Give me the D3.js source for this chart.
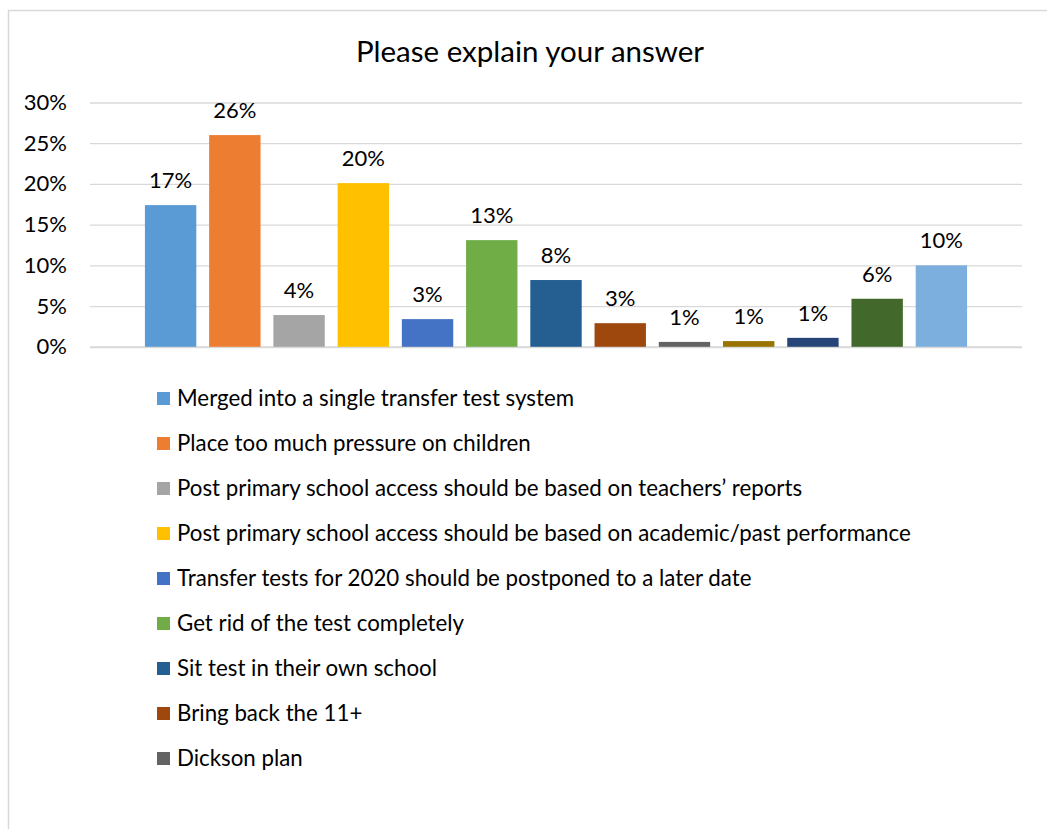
<!DOCTYPE html>
<html>
<head>
<meta charset="utf-8">
<script src="https://cdn.jsdelivr.net/npm/d3@7"></script>
<style>
  body { margin: 0; background: #fff; }
  svg { display: block; font-family: Lato, "Liberation Sans", sans-serif; }
</style>
</head>
<body>
<svg class="chart-svg" width="1047" height="829"></svg>
<script>
// values (percent)
const values = [17.4, 26.0, 3.9, 20.1, 3.4, 13.1, 8.2, 2.9, 0.6, 0.7, 1.1, 5.9, 10.0]
const colors = ['#5B9BD5', '#ED7D31', '#A5A5A5', '#FFC000', '#4472C4', '#70AD47',
  '#255E91', '#9E480E', '#636363', '#997300', '#264478', '#43682B', '#7CAFDD']
// only the first nine legend entries fit inside the chart area
const legendNames = [
  'Merged into a single transfer test system',
  'Place too much pressure on children',
  'Post primary school access should be based on teachers\u2019 reports',
  'Post primary school access should be based on academic/past performance',
  'Transfer tests for 2020 should be postponed to a later date',
  'Get rid of the test completely',
  'Sit test in their own school',
  'Bring back the 11+',
  'Dickson plan'
]
const yTicks = [0, 5, 10, 15, 20, 25, 30]
const title = 'Please explain your answer'

const svg = d3.select('.chart-svg')

// outer frame (only the top and left edges show in the crop)
svg.append('path')
  .attr('d', 'M8.5,829 V10.5 H1047')
  .attr('fill', 'none')
  .attr('stroke', '#d9d9d9')
  .attr('stroke-width', 1.5)

svg.append('text')
  .attr('x', 530)
  .attr('y', 62)
  .attr('text-anchor', 'middle')
  .attr('font-size', 29.5)
  .attr('fill', '#000')
  .text(title)

const xScale = d3.scaleBand()
  .domain(d3.range(values.length))
  .range([90, 1022])
  .paddingInner(0.2)
  .paddingOuter(0.855)

const yScale = d3.scaleLinear()
  .domain([0, 30])
  .range([346.8, 102.5])

// gridlines + y labels
const yAxis = svg.append('g')
  .attr('class', 'y axis')
  .call(d3.axisLeft(yScale)
    .tickValues(yTicks)
    .tickSize(-(1022 - 90))
    .tickFormat(d => d + '%'))
  .attr('transform', 'translate(90,0)')

yAxis.select('.domain').remove()
yAxis.selectAll('.tick line')
  .attr('stroke', '#d9d9d9')
  .attr('stroke-width', d => d === 0 ? 2 : 1.3)
yAxis.selectAll('.tick text')
  .attr('x', -23)
  .attr('font-size', 22)
  .attr('font-family', 'Lato, sans-serif')
  .attr('fill', '#000')

svg.selectAll('.bar')
  .data(values)
  .enter()
  .append('rect')
  .attr('class', 'bar')
  .attr('x', (d, i) => xScale(i))
  .attr('y', d => yScale(d))
  .attr('width', xScale.bandwidth())
  .attr('height', d => yScale(0) - yScale(d))
  .attr('fill', (d, i) => colors[i])

svg.selectAll('.bar-label')
  .data(values)
  .enter()
  .append('text')
  .attr('class', 'bar-label')
  .attr('x', (d, i) => xScale(i) + xScale.bandwidth() / 2)
  .attr('y', d => yScale(d) - 17)
  .attr('text-anchor', 'middle')
  .attr('font-size', 22)
  .attr('fill', '#000')
  .text(d => Math.round(d) + '%')

const legend = svg.selectAll('.legend-item')
  .data(legendNames)
  .enter()
  .append('g')
  .attr('class', 'legend-item')
  .attr('transform', (d, i) => `translate(157,${398 + i * 45})`)

legend.append('rect')
  .attr('x', 0)
  .attr('y', -6)
  .attr('width', 13)
  .attr('height', 13)
  .attr('fill', (d, i) => colors[i])

legend.append('text')
  .attr('x', 20)
  .attr('y', 8)
  .attr('font-size', 22.3)
  .attr('fill', '#000')
  .text(d => d)
</script>
</body>
</html>
